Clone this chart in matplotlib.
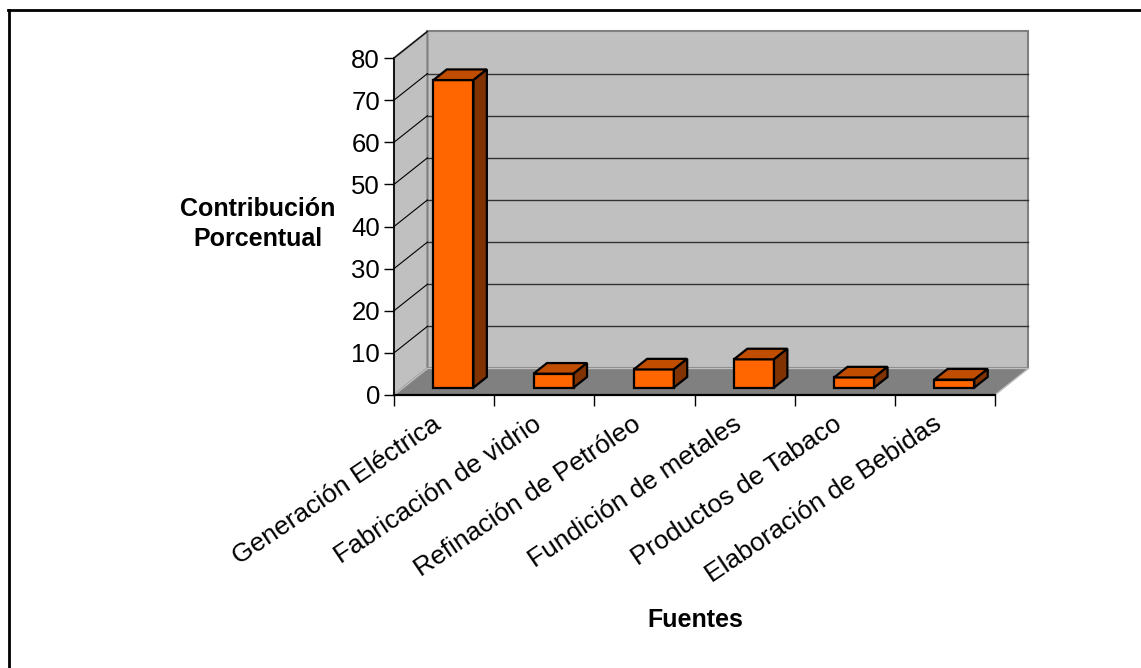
import matplotlib
matplotlib.use("Agg")
import matplotlib.pyplot as plt
from matplotlib.patches import Polygon
from matplotlib.lines import Line2D
from matplotlib.transforms import ScaledTranslation

plt.rcParams['font.family'] = ['Liberation Sans', 'DejaVu Sans']

# ----- data -----
categories = ["Generación Eléctrica", "Fabricación de vidrio", "Refinación de Petróleo",
              "Fundición de metales", "Productos de Tabaco", "Elaboración de Bebidas"]
values = [73.0, 3.3, 4.3, 6.7, 2.4, 1.9]
yticks = [0, 10, 20, 30, 40, 50, 60, 70, 80]

# ----- oblique 3D look -----
ox, oy = 0.334, 6.3          # shift of the back plane (data units)
d0, d1 = 0.28, 0.68          # bar depth (fraction of depth)
w0, w1 = 0.30, 0.70          # bar width inside slot
c_front, c_top, c_side = '#FF6600', '#C04D00', '#803300'
c_wall, c_floor = '#C0C0C0', '#808080'

W, H = 1141, 668
fig = plt.figure(figsize=(W / 100, H / 100), dpi=100)
ax = fig.add_axes([394 / W, (H - 395) / H, 601 / W, 337 / H])
n = len(categories)
ymax = yticks[-1]
ax.set_xlim(0, n)
ax.set_ylim(0, ymax)


def P(x, y, d):
    return (x + d * ox, y + d * oy)


def poly(pts, fc, ec, lw, z):
    ax.add_patch(Polygon(pts, closed=True, facecolor=fc, edgecolor=ec, lw=lw,
                         zorder=z, clip_on=False, joinstyle='miter'))


# back wall, side wall, floor
poly([P(0, 0, 1), P(n, 0, 1), P(n, ymax, 1), P(0, ymax, 1)], c_wall, '#808080', 1.5, 1)
poly([P(0, 0, 0), P(0, 0, 1), P(0, ymax, 1), P(0, ymax, 0)], c_wall, '#808080', 1.5, 1)
for t in yticks[1:-1]:
    ax.plot([P(0, t, 1)[0], P(n, t, 1)[0]], [P(0, t, 1)[1]] * 2, color='#333333', lw=1.0,
            zorder=2, clip_on=False)
for t in yticks[1:]:
    ax.plot([0, ox], [t, t + oy], color='black', lw=0.8, zorder=2, clip_on=False)
poly([P(0, 0, 0), P(n, 0, 0), P(n, 0, 1), P(0, 0, 1)], c_floor, '#C0C0C0', 1.0, 3)

# bars
for i, v in enumerate(values):
    xa, xb = i + w0, i + w1
    poly([P(xa, 0, d0), P(xb, 0, d0), P(xb, v, d0), P(xa, v, d0)], c_front, 'black', 1.6, 5)
    poly([P(xa, v, d0), P(xb, v, d0), P(xb, v, d1), P(xa, v, d1)], c_top, 'black', 1.6, 5)
    poly([P(xb, 0, d0), P(xb, 0, d1), P(xb, v, d1), P(xb, v, d0)], c_side, 'black', 1.6, 5)

# axes
ax.set_facecolor('none')
for s in ['top', 'right']:
    ax.spines[s].set_visible(False)
ax.spines['left'].set_linewidth(1.2)
ax.spines['bottom'].set_linewidth(1.6)
ax.spines['left'].set_zorder(6)
ax.spines['bottom'].set_zorder(6)
ax.set_yticks(yticks)
ax.set_yticklabels([str(t) for t in yticks], fontsize=18.5)
ax.tick_params(axis='y', direction='out', length=7, width=1, pad=3)
ax.set_xticks([i + 0.5 for i in range(n)])
ax.set_xticklabels(categories, rotation=34, ha='right', va='top',
                   rotation_mode='anchor', fontsize=19)
ax.set_xticks(range(n + 1), minor=True)
ax.tick_params(axis='x', which='major', length=0, pad=12)
ax.tick_params(axis='x', which='minor', direction='out', length=8, width=1)
shift = ScaledTranslation(-9 / 72, 0, fig.dpi_scale_trans)
for lab in ax.get_xticklabels():
    lab.set_transform(lab.get_transform() + shift)

fig.text(258 / W, 1 - 224 / H, "Contribución\nPorcentual", ha='center', va='center',
         fontsize=18, fontweight='bold', linespacing=1.35)
fig.text(695 / W, 1 - 620 / H, "Fuentes", ha='center', va='center',
         fontsize=18, fontweight='bold')

# outer frame (top and left only)
fig.add_artist(Line2D([8 / W, 1], [1 - 10 / H] * 2, color='black', lw=2, transform=fig.transFigure))
fig.add_artist(Line2D([9 / W] * 2, [0, 1 - 10 / H], color='black', lw=2, transform=fig.transFigure))

fig.savefig("out.png", dpi=100)
